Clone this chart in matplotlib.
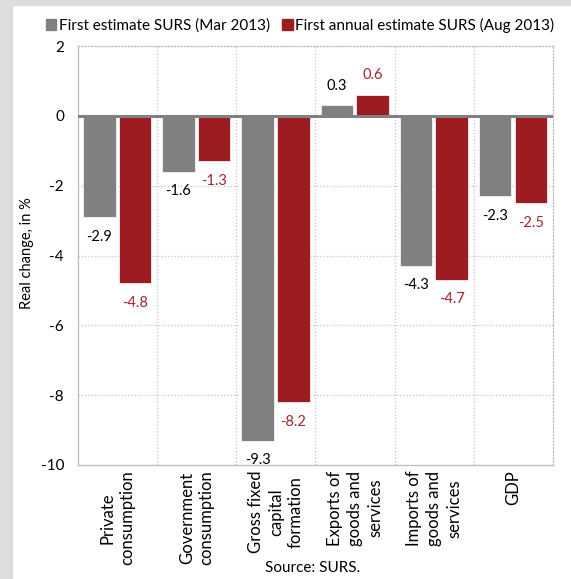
import matplotlib
matplotlib.use('Agg')
import matplotlib.pyplot as plt
import numpy as np
from matplotlib.patches import Rectangle, Patch

categories = ['Private\nconsumption', 'Government\nconsumption',
              'Gross fixed\ncapital\nformation', 'Exports of\ngoods and\nservices',
              'Imports of\ngoods and\nservices', 'GDP']
first_estimate = [-2.9, -1.6, -9.3, 0.3, -4.3, -2.3]
annual_estimate = [-4.8, -1.3, -8.2, 0.6, -4.7, -2.5]
series_names = ['First estimate SURS (Mar 2013)', 'First annual estimate SURS (Aug 2013)']

GREY = '#808080'
RED = '#9c1c21'
RED_TEXT = '#a1262b'

plt.rcParams['font.family'] = ['Lato', 'DejaVu Sans']
plt.rcParams['axes.unicode_minus'] = False

fig = plt.figure(figsize=(5.71, 5.79), dpi=100)

# light grey frame on the left and top edge
fig.patches.append(Rectangle((0, 0), 12 / 571, 1, transform=fig.transFigure,
                             color='#dcdddf', zorder=0))
fig.patches.append(Rectangle((0, 1 - 5 / 579), 1, 5 / 579, transform=fig.transFigure,
                             color='#dcdddf', zorder=0))

ax = fig.add_axes([78 / 571, 1 - 465 / 579, 475 / 571, 419 / 579])

x = np.arange(len(categories))
w = 0.41
ax.bar(x - 0.23, first_estimate, w, color=GREY, edgecolor='white', linewidth=0.5, zorder=3)
ax.bar(x + 0.22, annual_estimate, w, color=RED, edgecolor='white', linewidth=0.5, zorder=3)

for xi, v in zip(x, first_estimate):
    ax.annotate(f'{v:.1f}', (xi - 0.23, v), xytext=(0, -14 if v < 0 else 14),
                textcoords='offset points', ha='center', va='center',
                fontsize=10.5, color='black')
for xi, v in zip(x, annual_estimate):
    ax.annotate(f'{v:.1f}', (xi + 0.22, v), xytext=(0, -14 if v < 0 else 14),
                textcoords='offset points', ha='center', va='center',
                fontsize=10.5, color=RED_TEXT)

ax.axhline(0, color=GREY, lw=2.2, zorder=4)

ax.set_xlim(-0.5, 5.5)
ax.set_ylim(-10, 2)
ax.set_yticks(range(-10, 3, 2))
ax.set_xticks(x)
ax.set_xticklabels(categories, rotation=90, ha='center', va='top',
                   multialignment='center', fontsize=12, linespacing=1.3)
ax.set_xticks(np.arange(0.5, 5, 1), minor=True)
ax.tick_params(axis='both', which='both', length=0)
ax.tick_params(axis='y', labelsize=11, pad=10)
ax.tick_params(axis='x', pad=4)

ax.yaxis.grid(True, linestyle=':', color='#c4c4c4', lw=0.9)
ax.xaxis.grid(True, which='minor', linestyle=':', color='#c4c4c4', lw=0.9)
ax.set_axisbelow(True)

for side, spine in ax.spines.items():
    spine.set_color('#bdbdbd')
    spine.set_linewidth(0.9)
    if side in ('top', 'right'):
        spine.set_linestyle(':')

fig.text(27 / 571, 1 - 253 / 579, 'Real change, in %', rotation=90,
         ha='center', va='center', fontsize=10.5)
fig.text(313 / 571, 1 - 568 / 579, 'Source: SURS.', ha='center', va='center',
         fontsize=11)

handles = [Patch(color=GREY), Patch(color=RED)]
fig.legend(handles, series_names, loc='center', bbox_to_anchor=(300 / 571, 1 - 25 / 579),
           ncol=2, frameon=False, fontsize=11, handlelength=0.7, handleheight=0.7,
           handletextpad=0.15, columnspacing=0.8, borderaxespad=0, borderpad=0)

fig.savefig('out.png', dpi=100)
